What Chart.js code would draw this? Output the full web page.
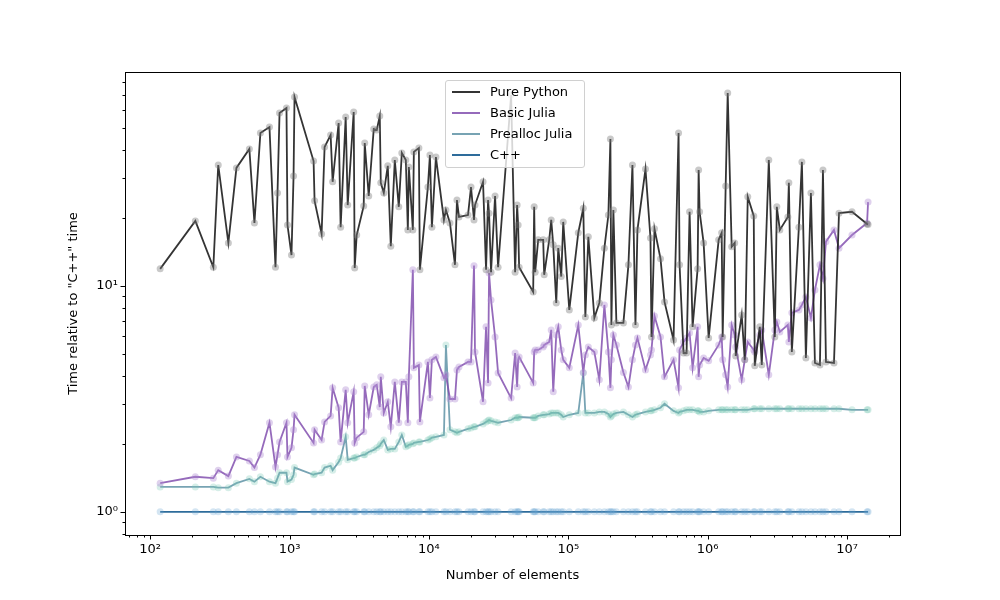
<!DOCTYPE html>
<html>
<head>
<meta charset="utf-8">
<script src="https://cdn.jsdelivr.net/npm/chart.js@4.4.1/dist/chart.umd.min.js"></script>
<style>
  body { margin: 0; background: #fff; }
  #wrap { position: relative; width: 1000px; height: 600px; }
  #legend {
    position: absolute; left: 445px; top: 80px; width: 140px;
    background: rgba(255,255,255,0.8); border: 1px solid #d0d0d0; border-radius: 3px;
    font-family: "DejaVu Sans", sans-serif; font-size: 13px; color: #000;
    padding: 0 0 2px 0; box-sizing: border-box;
  }
  #legend .row { height: 21px; display: flex; align-items: center; }
  #legend .sw { width: 28px; height: 2px; margin: 0 10px 0 6px; }
</style>
</head>
<body>
<div id="wrap">
  <canvas id="speedChart" width="1000" height="600"></canvas>
  <div id="legend"></div>
</div>
<script>
const seriesNames = ['Pure Python', 'Basic Julia', 'Prealloc Julia', 'C++'];

const numElements = [
  118, 211, 284, 308, 364, 416, 515, 560, 618, 718,
  793, 820, 848, 951, 967, 1033, 1069, 1086, 1488, 1513,
  1699, 1785, 1972, 2039, 2251, 2327, 2529, 2615, 2887, 2935,
  3034, 3407, 3464, 3701, 4021, 4226, 4442, 4516, 4747, 5070,
  5329, 5693, 6083, 6394, 6831, 7063, 7182, 7673, 7801, 8475,
  8617, 9836, 10170, 10510, 11230, 12820, 13250, 14160, 15390, 15900,
  16440, 19080, 20050, 21070, 21420, 24460, 25710, 26580, 27020, 27920,
  29840, 31360, 38900, 41560, 42960, 43680, 44410, 56010, 56940, 57890,
  60830, 66080, 67190, 73000, 75450, 78010, 81990, 84750, 89040, 92040,
  101700, 118000, 128200, 132600, 139300, 153900, 167100, 181600, 194000, 200600,
  203900, 210700, 221500, 248700, 270200, 288700, 303400, 313600, 358100, 388900,
  395500, 415600, 459100, 490500, 569300, 618600, 628900, 671900, 706100, 742100,
  780100, 847500, 861700, 875900, 935800, 1017000, 1200000, 1261000, 1282000, 1347000,
  1393000, 1488000, 1564000, 1590000, 1756000, 1846000, 1940000, 2142000, 2178000, 2366000,
  2446000, 2747000, 3034000, 3136000, 3296000, 3763000, 3826000, 4020000, 4515000, 4746000,
  5070000, 5508000, 5887000, 6394000, 6720000, 7063000, 8063000, 8759000, 10860000, 13930000,
  14160000
];

const pythonTime = [
  11.9, 19.4, 12.1, 34.3, 15.5, 33.3, 40.4, 19.0, 47.5, 50.5,
  12.1, 25.8, 58.3, 61.3, 18.6, 13.7, 30.7, 68.6, 35.7, 23.8,
  17.0, 41.2, 46.6, 28.9, 52.6, 18.2, 55.9, 22.8, 58.9, 12.0,
  16.8, 22.6, 42.9, 25.0, 49.5, 49.0, 56.5, 28.6, 25.8, 34.0,
  15.0, 36.1, 22.4, 38.8, 36.1, 17.7, 33.6, 17.7, 39.2, 40.8,
  11.8, 27.4, 38.0, 18.2, 37.2, 19.6, 21.7, 19.0, 12.4, 24.0,
  20.2, 20.6, 27.4, 19.6, 22.8, 28.9, 11.8, 24.0, 21.0, 11.5,
  25.0, 12.1, 70.0, 11.5, 22.8, 18.6, 12.1, 9.41, 22.4, 11.5,
  16.0, 16.0, 11.2, 16.0, 19.6, 15.2, 8.41, 14.7, 11.0, 19.2,
  7.83, 17.2, 22.1, 7.29, 16.5, 7.22, 8.41, 14.7, 20.6, 44.7,
  6.72, 21.7, 6.86, 6.86, 12.4, 34.3, 6.72, 17.7, 32.9, 16.3,
  5.95, 17.9, 13.2, 8.50, 5.77, 47.5, 12.4, 5.05, 5.05, 21.3,
  6.59, 11.9, 32.6, 21.3, 15.5, 5.89, 16.0, 17.2, 5.95, 27.7,
  71.5, 14.9, 15.5, 4.90, 7.44, 4.71, 24.8, 20.4, 4.43, 6.59,
  4.47, 36.1, 5.95, 22.4, 17.7, 20.2, 28.6, 5.10, 18.2, 35.4,
  4.80, 25.8, 4.56, 4.47, 32.6, 4.61, 4.56, 21.0, 21.3, 18.8,
  18.7
];

const basicJuliaTime = [
  1.34, 1.43, 1.41, 1.53, 1.44, 1.75, 1.68, 1.57, 1.79, 2.48,
  1.58, 1.79, 2.04, 2.48, 1.75, 1.92, 2.31, 2.69, 2.02, 2.31,
  2.08, 2.50, 2.66, 3.54, 2.89, 2.04, 3.47, 2.48, 3.40, 2.02,
  2.13, 2.26, 3.61, 2.69, 3.57, 3.65, 2.91, 3.96, 2.74, 3.07,
  2.38, 3.76, 2.48, 3.76, 3.76, 2.48, 3.96, 11.8, 4.34, 4.47,
  2.50, 4.61, 3.19, 4.71, 4.85, 3.92, 4.04, 3.16, 3.16, 4.25,
  4.38, 4.61, 4.61, 12.3, 5.10, 3.07, 6.59, 3.72, 11.4, 8.67,
  5.95, 4.12, 3.19, 5.05, 3.57, 4.71, 4.85, 3.72, 5.10, 5.21,
  5.21, 5.37, 5.48, 5.65, 6.39, 3.40, 6.07, 6.59, 5.21, 4.71,
  4.34, 6.72, 4.14, 4.95, 5.37, 5.10, 3.84, 8.24, 5.10, 3.54,
  4.71, 6.07, 5.48, 4.14, 3.57, 4.71, 5.48, 5.89, 4.25, 4.95,
  5.21, 7.37, 5.95, 3.96, 4.71, 3.54, 5.21, 5.65, 5.89, 6.19,
  4.34, 6.59, 3.96, 4.47, 4.80, 4.66, 5.48, 5.95, 4.71, 4.04,
  3.57, 6.72, 6.07, 5.37, 3.84, 4.71, 5.65, 5.21, 5.10, 6.07,
  6.39, 4.04, 6.39, 6.93, 6.26, 6.72, 5.65, 7.60, 7.83, 8.24,
  8.94, 7.22, 9.60, 12.4, 10.8, 15.7, 17.7, 14.7, 16.8, 19.0,
  23.5
];

const preallocJuliaTime = [
  1.29, 1.29, 1.29, 1.28, 1.28, 1.34, 1.40, 1.36, 1.43, 1.36,
  1.34, 1.41, 1.49, 1.49, 1.36, 1.39, 1.46, 1.57, 1.46, 1.47,
  1.49, 1.57, 1.60, 1.53, 1.66, 1.73, 2.15, 1.70, 1.73, 1.73,
  1.75, 1.79, 1.79, 1.84, 1.88, 1.92, 1.96, 2.00, 2.08, 1.88,
  1.90, 1.90, 2.04, 2.19, 1.94, 1.96, 1.98, 2.00, 2.02, 2.04,
  2.04, 2.08, 2.10, 2.13, 2.15, 2.19, 5.48, 2.31, 2.26, 2.24,
  2.26, 2.33, 2.35, 2.38, 2.38, 2.45, 2.50, 2.53, 2.55, 2.53,
  2.50, 2.48, 2.55, 2.61, 2.61, 2.61, 2.63, 2.61, 2.61, 2.61,
  2.66, 2.69, 2.69, 2.71, 2.74, 2.74, 2.74, 2.74, 2.69, 2.63,
  2.69, 2.74, 4.12, 2.74, 2.74, 2.74, 2.77, 2.77, 2.71, 2.63,
  2.66, 2.71, 2.74, 2.77, 2.69, 2.63, 2.69, 2.71, 2.77, 2.80,
  2.80, 2.83, 2.89, 3.01, 2.80, 2.74, 2.77, 2.80, 2.83, 2.83,
  2.83, 2.80, 2.80, 2.77, 2.77, 2.80, 2.83, 2.83, 2.83, 2.83,
  2.83, 2.83, 2.83, 2.83, 2.83, 2.83, 2.83, 2.86, 2.86, 2.86,
  2.86, 2.86, 2.86, 2.86, 2.86, 2.86, 2.86, 2.86, 2.86, 2.86,
  2.86, 2.86, 2.86, 2.86, 2.86, 2.86, 2.86, 2.86, 2.83, 2.83,
  2.83
];

const cppTime = [
  1, 1, 1, 1, 1, 1, 1, 1, 1, 1,
  1, 1, 1, 1, 1, 1, 1, 1, 1, 1,
  1, 1, 1, 1, 1, 1, 1, 1, 1, 1,
  1, 1, 1, 1, 1, 1, 1, 1, 1, 1,
  1, 1, 1, 1, 1, 1, 1, 1, 1, 1,
  1, 1, 1, 1, 1, 1, 1, 1, 1, 1,
  1, 1, 1, 1, 1, 1, 1, 1, 1, 1,
  1, 1, 1, 1, 1, 1, 1, 1, 1, 1,
  1, 1, 1, 1, 1, 1, 1, 1, 1, 1,
  1, 1, 1, 1, 1, 1, 1, 1, 1, 1,
  1, 1, 1, 1, 1, 1, 1, 1, 1, 1,
  1, 1, 1, 1, 1, 1, 1, 1, 1, 1,
  1, 1, 1, 1, 1, 1, 1, 1, 1, 1,
  1, 1, 1, 1, 1, 1, 1, 1, 1, 1,
  1, 1, 1, 1, 1, 1, 1, 1, 1, 1,
  1, 1, 1, 1, 1, 1, 1, 1, 1, 1,
  1
];

const lineColors = ['rgba(30,30,30,0.9)', 'rgba(130,80,175,0.85)', 'rgba(85,140,160,0.8)', 'rgba(35,100,150,0.95)'];
const dotColors = ['rgba(120,120,120,0.4)', 'rgba(175,140,210,0.4)', 'rgba(120,200,180,0.3)', 'rgba(100,160,210,0.28)'];

const FONT = '"DejaVu Sans", sans-serif';
const SUP = { '0': '⁰', '1': '¹', '2': '²', '3': '³', '4': '⁴', '5': '⁵', '6': '⁶', '7': '⁷', '8': '⁸', '9': '⁹', '-': '⁻' };

function powLabel(v) {
  const l = Math.log10(v);
  const e = Math.round(l);
  if (Math.abs(l - e) > 1e-6) return '';
  return '10' + String(e).split('').map(c => SUP[c]).join('');
}

// 1..9 x 10^n inside the axis range, like matplotlib's log locator
function logTicks(min, max) {
  const out = [];
  for (let e = Math.floor(Math.log10(min)); e <= Math.ceil(Math.log10(max)); e++) {
    for (let k = 1; k <= 9; k++) {
      const v = k * Math.pow(10, e);
      if (v >= min && v <= max) out.push({ value: v, major: k === 1 });
    }
  }
  return out;
}

const toPoints = ys => numElements.map((n, i) => ({ x: n, y: ys[i] }));
const allSeries = [pythonTime, basicJuliaTime, preallocJuliaTime, cppTime];

// frame + major/minor tick marks
const axesFrame = {
  id: 'axesFrame',
  afterDraw(chart) {
    const { ctx, chartArea: a, scales } = chart;
    ctx.save();
    ctx.strokeStyle = '#000';
    ctx.lineWidth = 1;
    ctx.strokeRect(a.left + 0.5, a.top + 0.5, a.right - a.left, a.bottom - a.top);
    ctx.beginPath();
    logTicks(scales.x.min, scales.x.max).forEach(t => {
      const px = Math.round(scales.x.getPixelForValue(t.value)) + 0.5;
      ctx.moveTo(px, a.bottom);
      ctx.lineTo(px, a.bottom + (t.major ? 4.5 : 2.5));
    });
    logTicks(scales.y.min, scales.y.max).forEach(t => {
      const py = Math.round(scales.y.getPixelForValue(t.value)) + 0.5;
      ctx.moveTo(a.left, py);
      ctx.lineTo(a.left - (t.major ? 4.5 : 2.5), py);
    });
    ctx.stroke();
    ctx.restore();
  }
};

const axisCommon = {
  type: 'logarithmic',
  grid: { display: false, drawTicks: false },
  border: { display: false },
  afterBuildTicks: s => { s.ticks = logTicks(s.min, s.max); }
};

new Chart(document.getElementById('speedChart').getContext('2d'), {
  type: 'line',
  data: {
    datasets: allSeries.map((ys, i) => ({
      label: seriesNames[i],
      data: toPoints(ys),
      borderColor: lineColors[i],
      borderWidth: 1.8,
      pointRadius: 3.5,
      pointBorderWidth: 0,
      pointBackgroundColor: dotColors[i],
      tension: 0,
      fill: false
    }))
  },
  options: {
    responsive: false,
    animation: false,
    events: [],
    layout: { padding: { left: 62, right: 100, top: 72, bottom: 13 } },
    plugins: { legend: { display: false }, tooltip: { enabled: false } },
    scales: {
      x: {
        ...axisCommon,
        position: 'bottom',
        min: 66, max: 2.4e7,
        ticks: { autoSkip: false, maxRotation: 0, padding: 7, color: '#000', font: { family: FONT, size: 13 }, callback: v => powLabel(v) },
        title: { display: true, text: 'Number of elements', color: '#000', font: { family: FONT, size: 13 }, padding: { top: 4, bottom: 4 } },
        afterFit: s => { s.height = 52; }
      },
      y: {
        ...axisCommon,
        position: 'left',
        min: 0.79, max: 88.5,
        ticks: { autoSkip: false, padding: 7, color: '#000', font: { family: FONT, size: 13 }, callback: v => powLabel(v) },
        title: { display: true, text: 'Time relative to "C++" time', color: '#000', font: { family: FONT, size: 13 }, padding: { top: 4, bottom: 4 } },
        afterFit: s => { s.width = 63; }
      }
    }
  },
  plugins: [axesFrame]
});

// legend box inside the plot, as in the original figure
const legendEl = document.getElementById('legend');
seriesNames.forEach((name, i) => {
  const row = document.createElement('div');
  row.className = 'row';
  const sw = document.createElement('span');
  sw.className = 'sw';
  sw.style.background = lineColors[i];
  const label = document.createElement('span');
  label.textContent = name;
  row.appendChild(sw);
  row.appendChild(label);
  legendEl.appendChild(row);
});
</script>
</body>
</html>
